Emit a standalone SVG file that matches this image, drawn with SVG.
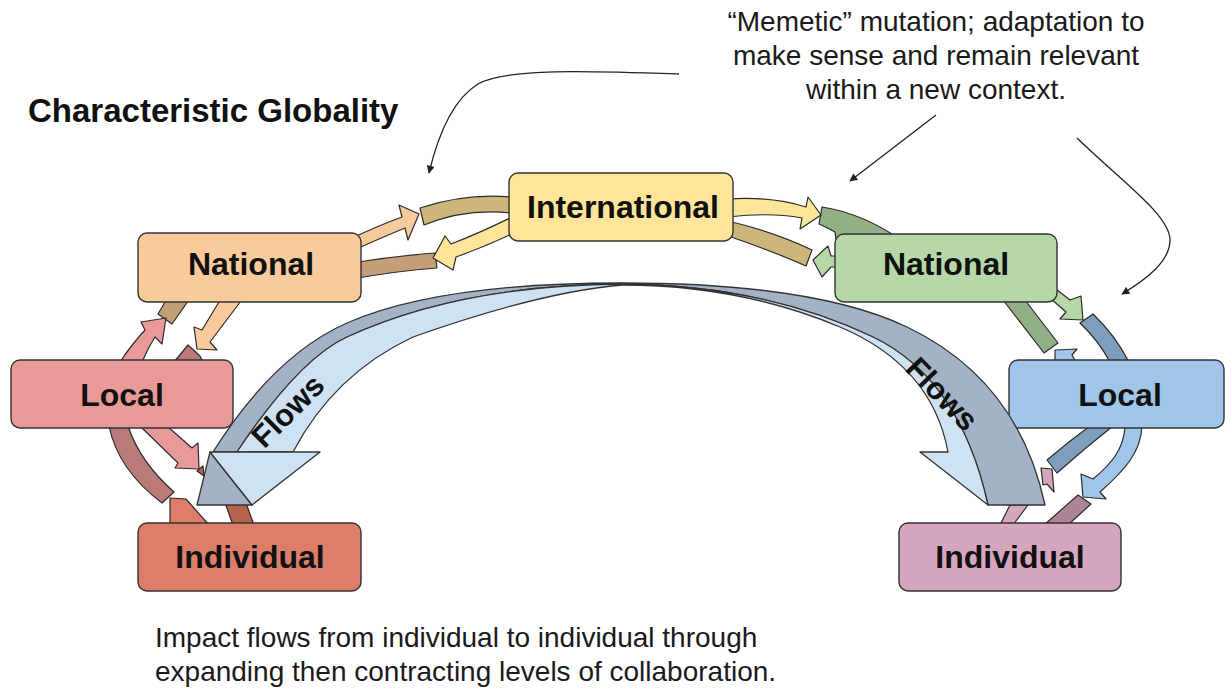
<svg xmlns="http://www.w3.org/2000/svg" width="1225" height="692" viewBox="0 0 1225 692">
  <style>
    .box { stroke: #333333; stroke-width: 1.4; }
    .lbl { font-family: "Liberation Sans", Arial, sans-serif; font-weight: bold; font-size: 32px; fill: #111111; text-anchor: middle; }
    .note { font-family: "Liberation Sans", Arial, sans-serif; font-size: 28px; fill: #1a1a1a; }
    .title { font-family: "Liberation Sans", Arial, sans-serif; font-weight: bold; font-size: 33px; fill: #111111; }
    .c { stroke: #2b2b2b; stroke-width: 1.2; stroke-linejoin: round; }
    .flowDark { fill: #A3B3C5; stroke: #333333; stroke-width: 1.3; stroke-linejoin: round; }
    .flowLight { fill: #CFE2F3; stroke: #333333; stroke-width: 1.3; stroke-linejoin: round; }
    .flowTxt { font-family: "Liberation Sans", Arial, sans-serif; font-weight: bold; font-size: 31px; fill: #111111; text-anchor: middle; dominant-baseline: central; }
    .ptr { fill: none; stroke: #222222; stroke-width: 1.3; }
  </style>
  <defs>
    <marker id="tip" viewBox="0 0 10 10" refX="9" refY="5" markerWidth="9" markerHeight="8" markerUnits="userSpaceOnUse" orient="auto">
      <path d="M0,0 L10,5 L0,10 z" fill="#222222"/>
    </marker>
  </defs>

  <rect width="1225" height="692" fill="#ffffff"/>

  <!-- heading and notes -->
  <text class="title" x="28" y="122">Characteristic Globality</text>
  <g id="note-top">
    <text class="note" x="936" y="31" text-anchor="middle">“Memetic” mutation; adaptation to</text>
    <text class="note" x="936" y="65" text-anchor="middle">make sense and remain relevant</text>
    <text class="note" x="936" y="99" text-anchor="middle">within a new context.</text>
  </g>
  <g id="note-bottom">
    <text class="note" x="155" y="647">Impact flows from individual to individual through</text>
    <text class="note" x="155" y="681">expanding then contracting levels of collaboration.</text>
  </g>

  <!-- pointers from the note -->
  <g id="pointers">
    <path class="ptr" d="M679,74 C590,71 505,68 478,84 C452,100 438,135 429,173" marker-end="url(#tip)"/>
    <path class="ptr" d="M936,115 L850,181" marker-end="url(#tip)"/>
    <path class="ptr" d="M1077,138 C1120,180 1170,215 1170,240 C1170,262 1145,280 1122,294" marker-end="url(#tip)"/>
  </g>

  <!-- small block arrows between levels -->
  <g id="connectors">
    <!-- National (left) <-> International -->
    <path class="c" fill="#CDB67B" d="M420,208 Q465,193 512,197 L512,213 Q465,208 424,225 Z"/>
    <path class="c" fill="#F9CB9C" d="M352,238 Q380,225 402,217 L399,205 L419,214 L408,240 L405,228 Q383,237 352,251 Z"/>
    <path class="c" fill="#C49E77" d="M352,263 Q395,256 435,253 L437,268 Q397,271 352,279 Z"/>
    <path class="c" fill="#FFE599" d="M514,216 Q482,232 451,244 L445,236 L433,258 L453,270 L456,257 Q484,247 514,233 Z"/>

    <!-- International <-> National (right) -->
    <path class="c" fill="#93AF85" d="M822,207 Q860,213 895,236 L836,240 L835,232 Q828,228 819,224 Z"/>
    <path class="c" fill="#FFE599" d="M728,199 Q770,196 806,207 L808,197 L821,215 L800,229 L802,218 Q770,212 728,217 Z"/>
    <path class="c" fill="#CDB67B" d="M728,221 Q775,232 812,250 L806,266 Q770,250 728,236 Z"/>
    <path class="c" fill="#B6D7A8" d="M840,256 L831,256 L828,246 L813,260 L822,277 L831,267 L840,267 Z"/>

    <!-- National (left) <-> Local (left) -->
    <path class="c" fill="#C49E77" d="M168,297 L191,297 L172,324 L158,314 Z"/>
    <path class="c" fill="#EA9999" d="M120,362 Q132,344 145,330 L141,322 L166,318 L162,344 L155,337 Q148,348 142,362 Z"/>
    <path class="c" fill="#F9CB9C" d="M222,297 L202,330 L194,327 L197,349 L217,350 L210,342 L244,297 Z"/>
    <path class="c" fill="#BB7A7A" d="M174,362 L188,345 L200,356 L203,362 Z"/>

    <!-- Local (left) <-> Individual (left) -->
    <path class="c" fill="#BB7A7A" d="M109,426 Q118,470 162,503 L174,492 Q140,462 128,426 Z"/>
    <path class="c" fill="#EA9999" d="M140,426 L178,463 L175,468 L199,469 L198,443 L192,448 L167,426 Z"/>
    <path class="c" fill="#B5624F" d="M197,471 L203,466 L204,476 Z"/>
    <path class="c" fill="#DD7E6B" d="M170,498 L186,499 L209,525 L170,525 Z"/>
    <path class="c" fill="#B5624F" d="M225,503 L246,503 L254,525 L233,525 Z"/>

    <!-- National (right) <-> Local (right) -->
    <path class="c" fill="#93AF85" d="M1003,300 L1025,300 L1058,343 L1044,353 Z"/>
    <path class="c" fill="#B6D7A8" d="M1052,286 L1070,300 L1081,296 L1083,320 L1060,319 L1066,312 L1050,298 Z"/>
    <path class="c" fill="#7F9EBD" d="M1080,323 L1093,314 Q1115,335 1129,362 L1110,362 Q1098,340 1080,323 Z"/>
    <path class="c" fill="#9FC5E8" d="M1055,362 L1055,350 L1077,349 L1072,355 L1076,362 Z"/>

    <!-- Local (right) <-> Individual (right) -->
    <path class="c" fill="#7F9EBD" d="M1090,426 L1113,426 Q1085,448 1057,473 L1047,460 Q1068,442 1090,426 Z"/>
    <path class="c" fill="#9FC5E8" d="M1125,426 C1124,450 1110,465 1093,479 L1081,474 L1083,497 L1106,499 L1100,492 C1125,470 1141,452 1142,426 Z"/>
    <path class="c" fill="#AD8599" d="M1078,495 L1091,504 L1068,525 L1044,525 Z"/>
    <path class="c" fill="#D5A6BD" d="M1000,525 L1013,525 L1028,505 L1010,505 Z"/>
    <path class="c" fill="#D5A6BD" d="M1041,468 L1052,469 L1054,492 L1047,484 L1043,485 Z"/>
  </g>

  <!-- level boxes -->
  <g id="international">
    <rect class="box" x="509" y="173" width="224" height="68" rx="9" fill="#FFE599"/>
    <text class="lbl" x="623" y="218">International</text>
  </g>
  <g id="national-left">
    <rect class="box" x="138" y="233" width="223" height="69" rx="9" fill="#F9CB9C"/>
    <text class="lbl" x="251" y="275">National</text>
  </g>
  <g id="local-left">
    <rect class="box" x="11" y="360" width="222" height="68" rx="9" fill="#EA9999"/>
    <text class="lbl" x="122" y="406">Local</text>
  </g>
  <g id="individual-left">
    <rect class="box" x="138" y="523" width="223" height="68" rx="9" fill="#DD7E6B"/>
    <text class="lbl" x="250" y="568">Individual</text>
  </g>
  <g id="national-right">
    <rect class="box" x="835" y="234" width="222" height="68" rx="9" fill="#B6D7A8"/>
    <text class="lbl" x="946" y="275">National</text>
  </g>
  <g id="local-right">
    <rect class="box" x="1009" y="360" width="215" height="68" rx="9" fill="#9FC5E8"/>
    <text class="lbl" x="1120" y="406">Local</text>
  </g>
  <g id="individual-right">
    <rect class="box" x="899" y="523" width="222" height="68" rx="9" fill="#D5A6BD"/>
    <text class="lbl" x="1010" y="568">Individual</text>
  </g>

  <!-- large curved "Flows" arrows -->
  <g id="flows">
    <g id="flow-left">
      <path class="flowDark" d="M622,283 Q438,283 347,323 Q274,355 213,452 L237,452 Q299,359 347,337 Q460,285 622,284 Z"/>
      <path class="flowLight" d="M622,284 Q460,285 347,337 Q299,359 237,452 L293,452 Q334,374 413,337 Q540,292 622,285 Z"/>
      <path class="flowDark" d="M210,452 L197,505 L252,505 Z"/>
      <path class="flowLight" d="M210,452 L320,452 L252,505 Z"/>
      <text class="flowTxt" transform="translate(288,411) rotate(-45)">Flows</text>
    </g>
    <g id="flow-right">
      <path class="flowDark" d="M622,283 Q815,283 907,327 Q1018,380 1045,505 L988,505 Q960,379 873,337 Q764,285 622,284 Z"/>
      <path class="flowLight" d="M622,284 Q764,285 873,337 Q960,379 988,505 L920,452 L948,452 Q932,366 840,327 Q740,285 622,285 Z"/>
      <text class="flowTxt" transform="translate(942,394) rotate(46)">Flows</text>
    </g>
  </g>
</svg>
